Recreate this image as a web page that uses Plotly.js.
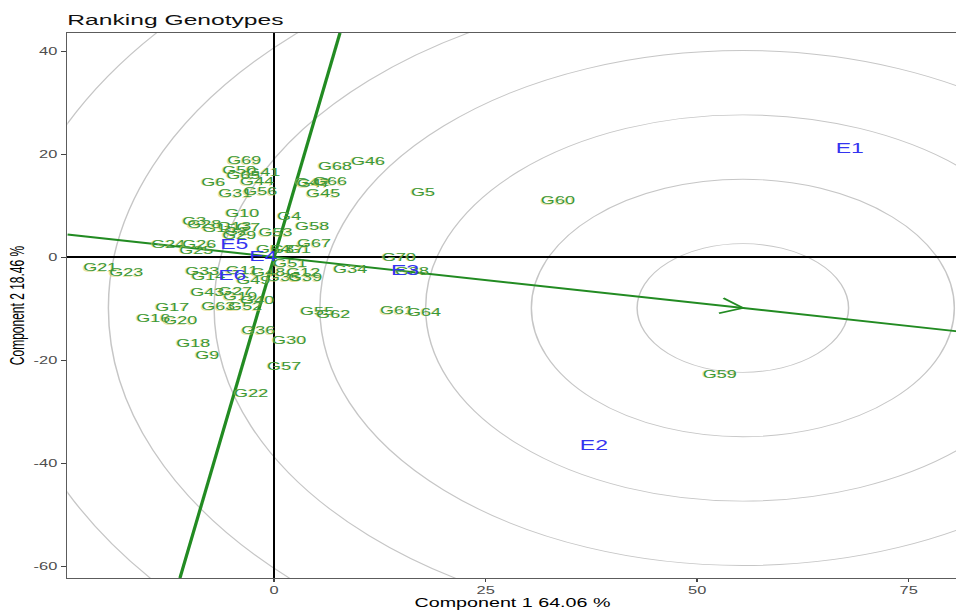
<!DOCTYPE html>
<html>
<head>
<meta charset="utf-8">
<script src="https://cdn.plot.ly/plotly-3.0.1.min.js"></script>
<style>
html,body{margin:0;padding:0;overflow:hidden;background:#fff;}
#chart{position:absolute;left:0;top:0;width:584px;height:613px;transform:scaleX(1.642612);transform-origin:0 0;}
</style>
</head>
<body>
<div id="chart"></div>
<script>
// ---- data ----
const genotypes = ["G1","G2","G3","G4","G5","G6","G7","G9","G10","G11","G12","G13","G14","G15","G16","G17","G18","G19","G20","G21","G22","G23","G24","G25","G26","G27","G28","G29","G30","G31","G33","G34","G35","G36","G37","G38","G39","G40","G41","G42","G43","G44","G45","G46","G47","G48","G49","G50","G51","G52","G53","G54","G55","G56","G57","G58","G59","G60","G61","G62","G63","G64","G65","G66","G67","G68","G69","G70"];
const genoPC1 = [2.95,-4.49,-9.45,1.77,17.60,-7.20,-3.07,-7.91,-3.78,-3.78,3.43,-4.72,-7.80,-6.50,-14.29,-12.05,-9.57,-4.02,-11.10,-20.55,-2.72,-17.48,-12.52,-9.21,-8.86,-4.61,-8.27,-4.13,1.77,-4.61,-8.50,8.98,1.06,-1.89,1.54,16.30,3.66,-2.01,-1.30,4.49,-7.91,-2.01,5.79,11.10,4.72,-0.71,-2.48,-4.13,1.89,-3.43,0.15,-0.12,5.08,-1.65,1.18,4.49,52.68,33.54,14.53,6.97,-6.61,17.72,-3.66,6.61,4.72,7.20,-3.54,14.76];
const genoPC2 = [1.36,4.85,6.80,7.77,12.43,14.37,5.63,-19.22,8.35,-2.72,-3.11,5.83,-3.88,5.44,-12.04,-9.90,-16.89,-7.77,-12.43,-2.14,-26.60,-3.11,2.33,1.17,2.33,-6.80,6.21,4.08,-16.31,12.23,-2.91,-2.52,-4.08,-14.37,1.36,-2.91,-4.08,-8.54,16.31,14.37,-6.99,14.56,12.23,18.45,14.17,-3.11,-4.66,16.70,-1.36,-9.71,4.66,1.36,-10.68,12.62,-21.36,5.83,-22.91,10.87,-10.49,-11.26,-9.71,-10.87,15.73,14.56,2.52,17.48,18.64,-0.19];
const environments = ["E1","E2","E3","E4","E5","E6"];
const envPC1 = [68.03,37.79,15.47,-1.30,-4.72,-4.96];
const envPC2 = [20.78,-36.89,-2.91,0.00,2.14,-3.88];
const idealPoint = [55.4,-9.9];     // centre of the concentric circles / arrow tip
const ringStep = 12.5;
const ringCount = 8;
const xRange = [-24.45, 80.79];
const yRange = [-62.33, 43.5];
const xTickVals = [0,25,50,75];
const xTickText = ["0","25","50","75"];
const yTickVals = [-60,-40,-20,0,20,40];
const yTickText = ["-60","-40","-20","0","20","40"];

// ---- derived geometry ----
const slope = idealPoint[1]/idealPoint[0];
const aeaX = [xRange[0], xRange[1]];
const aeaY = aeaX.map(v => slope*v);
const perpY = [yRange[0], yRange[1]];
const perpX = perpY.map(v => -slope*v);
const len = Math.hypot(idealPoint[0], idealPoint[1]);
const ux = idealPoint[0]/len, uy = idealPoint[1]/len;
const armLen = 3, ang = Math.PI/6;
function arm(sign){
  const c = Math.cos(sign*ang), s = Math.sin(sign*ang);
  const bx = -ux, by = -uy;
  return [idealPoint[0] + armLen*(bx*c - by*s), idealPoint[1] + armLen*(bx*s + by*c)];
}
const a1 = arm(1), a2 = arm(-1);

const green = "#228B22";
const font = "Liberation Sans, Arial, sans-serif";

const shapes = [];
for (let k = 1; k <= ringCount; k++) {
  const r = k*ringStep;
  shapes.push({type:"circle", xref:"x", yref:"y", layer:"below",
    x0:idealPoint[0]-r, x1:idealPoint[0]+r, y0:idealPoint[1]-r, y1:idealPoint[1]+r,
    line:{color:"#c6c6c6", width:0.9}});
}

const traces = [
  {x:aeaX, y:aeaY, mode:"lines", line:{color:green, width:2}, hoverinfo:"skip", showlegend:false},
  {x:perpX, y:perpY, mode:"lines", line:{color:green, width:2}, hoverinfo:"skip", showlegend:false},
  {x:[a1[0], idealPoint[0], a2[0]], y:[a1[1], idealPoint[1], a2[1]], mode:"lines",
   line:{color:green, width:1.6}, hoverinfo:"skip", showlegend:false},
  {x:genoPC1, y:genoPC2, text:genotypes, mode:"text", textposition:"middle center",
   textfont:{family:font, size:11, color:"#3a983a", shadow:"-1px 1px 0px rgba(215,205,90,0.55)"},
   cliponaxis:false, hoverinfo:"text", showlegend:false},
  {x:envPC1, y:envPC2, text:environments, mode:"text", textposition:"middle center",
   textfont:{family:font, size:14, color:"#3434f0"}, cliponaxis:false, hoverinfo:"text", showlegend:false}
];

const axisCommon = {
  showgrid:false, zeroline:true, zerolinecolor:"#000", zerolinewidth:1.3,
  showline:true, mirror:true, linecolor:"#5c5c5c", linewidth:1.1,
  ticks:"outside", ticklen:3, tickcolor:"#444", tickwidth:1,
  tickfont:{family:font, size:10, color:"#4d4d4d"}, automargin:false, fixedrange:true
};

const layout = {
  width:584, height:613,
  margin:{l:41, r:1, t:33, b:35},
  paper_bgcolor:"#fff", plot_bgcolor:"#fff",
  showlegend:false,
  title:{text:"Ranking Genotypes", font:{family:font, size:15, color:"#111"},
         xref:"paper", x:0, xanchor:"left", yref:"container", y:0.968, yanchor:"middle"},
  xaxis:Object.assign({}, axisCommon, {range:xRange, tickmode:"array", tickvals:xTickVals, ticktext:xTickText,
    title:{text:"Component 1 64.06 %", font:{family:font, size:12, color:"#000"}, standoff:3}}),
  yaxis:Object.assign({}, axisCommon, {range:yRange, tickmode:"array", tickvals:yTickVals, ticktext:yTickText,
    title:{text:"Component 2 18.46 %", font:{family:font, size:12, color:"#000"}, standoff:2}}),
  shapes:shapes
};

Plotly.newPlot("chart", traces, layout, {displayModeBar:false, staticPlot:true});
</script>
</body>
</html>
